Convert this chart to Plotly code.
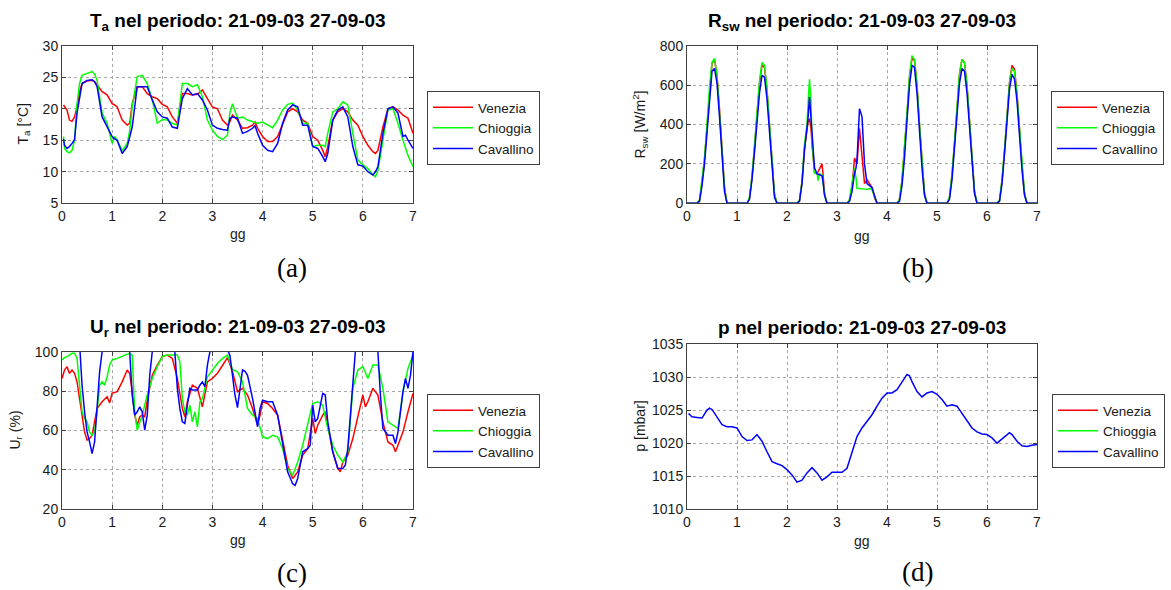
import plotly.graph_objects as go

W, H = 1171, 590
COLORS = {"Venezia": "#ff0000", "Chioggia": "#00ff00", "Cavallino": "#0000ff"}
DAY_TICKS = [0, 1, 2, 3, 4, 5, 6, 7]

# ---------------- (a) air temperature ----------------
ta_t = [0.03, 0.05, 0.1, 0.15, 0.2, 0.25, 0.3, 0.35, 0.4, 0.5, 0.6, 0.65, 0.7, 0.8, 0.9,
        1.0, 1.05, 1.1, 1.2, 1.3, 1.35, 1.4, 1.5, 1.6, 1.7, 1.8, 1.9,
        2.0, 2.1, 2.2, 2.3, 2.4, 2.5, 2.6, 2.7, 2.8, 2.9,
        3.0, 3.1, 3.2, 3.3, 3.35, 3.4, 3.5, 3.6, 3.7, 3.8, 3.85, 3.9,
        4.0, 4.1, 4.2, 4.3, 4.4, 4.5, 4.6, 4.7, 4.8, 4.9,
        5.0, 5.1, 5.2, 5.25, 5.3, 5.4, 5.5, 5.6, 5.7, 5.8, 5.9,
        6.0, 6.1, 6.2, 6.25, 6.3, 6.4, 6.5, 6.6, 6.7, 6.8, 6.85, 6.9, 7.0]
ta_venezia = [20.6, 20.3, 19.8, 18.2, 18.0, 18.7, 20.3, 22.7, 24.0, 24.4, 24.5, 24.3, 23.8, 22.7, 22.2,
              20.8, 20.6, 20.3, 18.2, 17.4, 17.7, 20.8, 23.5, 23.5, 22.4, 21.9, 21.6,
              20.7, 20.3, 18.7, 17.7, 22.4, 22.4, 22.2, 22.3, 23.0, 21.6,
              20.3, 20.0, 18.2, 17.4, 18.0, 19.0, 18.2, 16.9, 17.0, 17.4, 17.9, 16.9,
              15.6, 14.8, 14.8, 15.6, 17.7, 19.5, 20.0, 19.5, 18.2, 17.7,
              15.6, 15.0, 13.4, 12.4, 14.0, 18.2, 19.5, 20.0, 19.5, 18.2, 17.4,
              15.6, 14.2, 13.2, 12.9, 13.4, 17.1, 20.0, 20.3, 19.8, 19.0, 18.8, 18.5, 16.1]
ta_chioggia = [15.6, 13.7, 13.2, 13.0, 13.4, 15.0, 20.8, 24.0, 25.3, 25.6, 25.9, 25.5, 24.5, 19.3, 17.7,
               14.5, 15.6, 15.0, 13.4, 14.5, 16.5, 20.3, 25.1, 25.3, 24.0, 21.4, 17.7,
               18.3, 18.2, 17.7, 17.4, 24.0, 24.0, 23.5, 23.8, 21.9, 18.2,
               16.6, 15.6, 15.1, 15.8, 19.5, 20.8, 18.5, 18.7, 18.2, 17.9, 17.8, 17.7,
               17.9, 17.4, 17.0, 18.2, 19.8, 20.7, 20.9, 19.8, 17.7, 17.7,
               14.0, 14.2, 14.2, 14.0, 16.1, 19.5, 20.0, 21.1, 20.6, 16.1, 11.9,
               11.1, 10.5, 9.5, 9.2, 10.2, 15.0, 19.8, 20.0, 17.7, 15.0, 13.8, 12.6, 10.8]
ta_cavallino = [15.2, 14.2, 13.7, 14.0, 14.5, 15.1, 19.3, 22.0, 24.0, 24.5, 24.6, 24.3, 23.5, 18.7, 17.1,
                15.6, 15.2, 15.0, 12.9, 14.0, 15.5, 17.1, 23.5, 23.5, 23.5, 21.4, 19.5,
                18.7, 18.5, 17.1, 16.9, 21.6, 23.2, 22.2, 22.4, 21.4, 19.8,
                17.4, 16.9, 16.7, 16.6, 18.5, 18.7, 18.5, 16.1, 16.4, 16.9, 17.3, 16.1,
                14.2, 13.4, 13.2, 14.5, 17.7, 19.8, 20.6, 20.3, 17.4, 17.4,
                14.0, 13.7, 12.4, 11.6, 12.9, 18.2, 19.8, 20.3, 18.7, 14.0, 11.1,
                10.9, 10.0, 9.5, 10.0, 10.8, 16.1, 20.0, 20.3, 19.3, 15.6, 15.8, 15.0, 13.7]

# ---------------- (b) short-wave radiation ----------------
rsw_t = [0, 0.2, 0.25, 0.3, 0.35, 0.4, 0.45, 0.5, 0.55, 0.6, 0.65, 0.7, 0.75, 0.8,
         1.2, 1.25, 1.3, 1.35, 1.4, 1.45, 1.5, 1.55, 1.6, 1.65, 1.7, 1.75, 1.8,
         2.2, 2.25, 2.3, 2.35, 2.4, 2.42, 2.45, 2.48, 2.5, 2.55, 2.6, 2.62, 2.65, 2.7, 2.72, 2.75, 2.8,
         3.2, 3.25, 3.3, 3.35, 3.38, 3.4, 3.45, 3.5, 3.55, 3.6, 3.65, 3.7, 3.75, 3.8,
         4.2, 4.25, 4.3, 4.35, 4.4, 4.45, 4.5, 4.55, 4.6, 4.65, 4.7, 4.75, 4.8,
         5.2, 5.25, 5.3, 5.35, 5.4, 5.45, 5.5, 5.55, 5.6, 5.65, 5.7, 5.75, 5.8,
         6.2, 6.25, 6.3, 6.35, 6.4, 6.45, 6.5, 6.55, 6.6, 6.65, 6.7, 6.75, 6.8, 7.0]
rsw_venezia = [0, 0, 15, 105, 225, 395, 580, 710, 730, 650, 480, 260, 80, 0,
               0, 25, 135, 285, 445, 610, 700, 690, 575, 385, 190, 45, 0,
               0, 15, 110, 280, 380, 410, 430, 380, 300, 160, 150, 160, 175, 200, 150, 50, 0,
               0, 15, 80, 230, 210, 200, 380, 250, 100, 120, 100, 80, 30, 0,
               0, 20, 115, 265, 450, 640, 735, 725, 600, 400, 200, 50, 0,
               0, 30, 145, 305, 495, 655, 730, 715, 600, 410, 220, 60, 0,
               0, 15, 115, 265, 450, 615, 700, 680, 560, 370, 190, 50, 0, 0]
rsw_chioggia = [0, 0, 15, 110, 230, 400, 590, 715, 735, 650, 470, 250, 80, 0,
                0, 30, 140, 290, 450, 620, 715, 700, 580, 390, 190, 45, 0,
                0, 15, 110, 300, 400, 500, 630, 520, 320, 150, 160, 115, 150, 145, 100, 50, 0,
                0, 20, 100, 180, 130, 75, 75, 75, 72, 70, 75, 70, 30, 0,
                0, 20, 120, 270, 460, 650, 750, 730, 600, 400, 200, 50, 0,
                0, 30, 150, 310, 500, 660, 730, 715, 600, 410, 220, 60, 0,
                0, 15, 120, 270, 450, 610, 685, 670, 550, 370, 190, 50, 0, 0]
rsw_cavallino = [0, 0, 10, 90, 200, 370, 550, 670, 685, 610, 440, 220, 60, 0,
                 0, 20, 120, 260, 420, 560, 650, 640, 530, 360, 170, 30, 0,
                 0, 10, 100, 270, 390, 430, 540, 420, 330, 180, 150, 148, 145, 140, 110, 40, 0,
                 0, 10, 60, 150, 180, 220, 480, 440, 200, 100, 90, 80, 40, 0,
                 0, 10, 90, 230, 420, 600, 700, 690, 560, 360, 180, 40, 0,
                 0, 20, 120, 280, 460, 610, 685, 670, 560, 380, 200, 50, 0,
                 0, 10, 100, 250, 420, 580, 655, 630, 520, 340, 170, 40, 0, 0]

# ---------------- (c) relative humidity ----------------
ur_venezia_t = [0, .05, .1, .15, .2, .25, .3, .35, .4, .45, .5, .55, .6, .65, .7, .8, .9, .95,
                1.0, 1.1, 1.2, 1.3, 1.35, 1.4, 1.45, 1.5, 1.55, 1.6, 1.65, 1.7, 1.8, 1.9,
                2.0, 2.1, 2.2, 2.3, 2.4, 2.45, 2.5, 2.6, 2.7, 2.8, 2.9,
                3.0, 3.1, 3.2, 3.3, 3.4, 3.5, 3.6, 3.7, 3.8, 3.9, 3.95,
                4.0, 4.1, 4.2, 4.3, 4.4, 4.5, 4.6, 4.7, 4.8, 4.9,
                5.0, 5.05, 5.1, 5.2, 5.25, 5.3, 5.4, 5.5, 5.55, 5.6, 5.7, 5.8, 5.9,
                6.0, 6.05, 6.1, 6.2, 6.3, 6.4, 6.5, 6.6, 6.65, 6.7, 6.8, 6.9, 7.0]
ur_venezia = [86.4, 90.7, 92.4, 89, 90.7, 89, 84.7, 76.3, 67, 59.3, 55.1, 56, 57.6, 65.3, 71.2, 74.6, 77.1, 74,
              79, 79.7, 84.7, 90.7, 89, 79.7, 67.8, 62.7, 67, 67.8, 67, 75.4, 88.1, 93.2,
              97.5, 98.3, 96.6, 86.4, 71.2, 67, 74.6, 83, 81.4, 72, 84.7,
              86.4, 89, 93, 97, 90, 79.7, 81.4, 78, 71.2, 62.7, 67.8,
              74.6, 73.7, 71.2, 67.8, 54.2, 42.4, 35.6, 39, 47.5, 50.8,
              66.1, 58.5, 62.7, 67.8, 69.5, 62.7, 49.2, 40.7, 39, 44, 47.5, 55.9, 67.8,
              78, 72, 74.6, 81.4, 78, 64.4, 54.2, 52.5, 49.2, 52.5, 59.3, 69.5, 78.8]
ur_chioggia_t = [0, .05, .1, .2, .25, .3, .35, .4, .45, .5, .55, .6, .65, .7, .75, .8, .85, .9, .95,
                 1.0, 1.1, 1.2, 1.3, 1.35, 1.4, 1.45, 1.5, 1.55, 1.6, 1.7, 1.8, 1.9,
                 2.0, 2.1, 2.2, 2.3, 2.35, 2.4, 2.45, 2.5, 2.55, 2.6, 2.65, 2.7, 2.75, 2.8, 2.9,
                 3.0, 3.1, 3.2, 3.3, 3.4, 3.5, 3.6, 3.7, 3.8, 3.9,
                 4.0, 4.1, 4.2, 4.3, 4.4, 4.5, 4.6, 4.7, 4.8, 4.9,
                 5.0, 5.1, 5.2, 5.3, 5.4, 5.5, 5.6, 5.7, 5.8, 5.9,
                 6.0, 6.1, 6.2, 6.3, 6.4, 6.5, 6.6, 6.7, 6.8, 6.9, 7.0]
ur_chioggia = [95.8, 97, 97.5, 99.2, 99.2, 96.6, 83, 69.5, 66.1, 64.4, 59.3, 57.6, 59.3, 69.5, 83, 84.7, 83, 87.3, 93.2,
               95.8, 96.6, 97.5, 98.6, 99.2, 98.3, 69.5, 60.2, 64.4, 67.8, 78, 86.4, 92.4,
               97.5, 98.3, 98.3, 98.3, 95, 76.3, 69.5, 67.8, 72.9, 64.4, 69.5, 61.9, 74.6, 76.3, 87.3,
               90.7, 94, 96.6, 98.3, 91, 89.8, 84.7, 71.2, 67.8, 66.1,
               56.8, 55.9, 57.6, 56.8, 50.8, 40.7, 37.3, 44, 52.5, 62.7,
               73.7, 74.6, 72.9, 61, 52.5, 47.5, 44, 49.2, 81.4, 90.7,
               92.4, 86.4, 93.2, 93.2, 81.4, 64.4, 62.7, 61, 79.7, 91.5, 98.3]
ur_cavallino_t = [0, 0.1, 0.2, 0.3, 0.36, 0.4, 0.45, 0.5, 0.55, 0.6, 0.65, 0.7, 0.75, 0.8, 0.9,
                  1.1, 1.3, 1.35, 1.4, 1.45, 1.5, 1.55, 1.6, 1.65, 1.7, 1.75, 1.8, 1.9,
                  2.1, 2.2, 2.25, 2.3, 2.35, 2.4, 2.45, 2.5, 2.55, 2.6, 2.7, 2.75, 2.8, 2.85, 2.9, 2.95,
                  3.0, 3.2, 3.3, 3.35, 3.4, 3.45, 3.5, 3.55, 3.6, 3.65, 3.7, 3.8, 3.85, 3.9, 3.95,
                  4.0, 4.1, 4.2, 4.3, 4.4, 4.5, 4.6, 4.65, 4.7, 4.8, 4.9, 4.95,
                  5.0, 5.05, 5.1, 5.2, 5.25, 5.3, 5.4, 5.5, 5.6, 5.65, 5.7, 5.8, 5.85, 5.9,
                  6.1, 6.25, 6.3, 6.35, 6.4, 6.5, 6.6, 6.65, 6.7, 6.8, 6.85, 6.9, 6.95, 7.0]
ur_cavallino = [103, 104, 104, 102, 100, 83, 69.5, 59.3, 54.2, 48.3, 54.2, 71.2, 89.8, 100, 105,
                106, 102, 100, 78, 67.8, 69.5, 72, 69.5, 60.2, 67.8, 88.1, 100, 105,
                106, 103, 100, 81.4, 71.2, 64.4, 63.6, 72.9, 81.4, 80.5, 80.5, 83, 84.7, 82.2, 93.2, 100,
                104, 104, 101, 98, 88, 78, 71.6, 80, 90.7, 90, 88, 76.3, 69.5, 61.9, 71.2,
                75.4, 74.6, 74.6, 67.8, 52.5, 39, 33, 32.2, 35.6, 49.2, 50.8, 52.5,
                72.9, 64.4, 66.1, 78.8, 78, 64.4, 49.2, 40.7, 40.7, 42.4, 50.8, 86.4, 100, 104,
                106, 103, 100, 78, 61, 57.6, 57.6, 53.4, 59.3, 79.7, 86.4, 81.4, 88.1, 100]

# ---------------- (d) pressure (only Cavallino available) ----------------
p_t = [0.03, 0.1, 0.2, 0.3, 0.4, 0.45, 0.5, 0.6, 0.7, 0.8, 0.9,
       1.0, 1.1, 1.2, 1.3, 1.4, 1.5, 1.6, 1.7, 1.8, 1.9,
       2.0, 2.1, 2.2, 2.3, 2.4, 2.5, 2.6, 2.7, 2.8, 2.9,
       3.0, 3.1, 3.2, 3.3, 3.4, 3.5, 3.6, 3.7, 3.8, 3.9,
       4.0, 4.1, 4.2, 4.3, 4.4, 4.45, 4.5, 4.6, 4.7, 4.8, 4.9,
       5.0, 5.1, 5.2, 5.3, 5.4, 5.5, 5.6, 5.7, 5.8, 5.9,
       6.0, 6.1, 6.2, 6.3, 6.4, 6.45, 6.5, 6.6, 6.7, 6.8, 6.9, 7.0]
p_cavallino = [1024.5, 1024.0, 1023.9, 1023.8, 1025.0, 1025.3, 1025.1, 1024.0, 1022.8, 1022.5, 1022.5,
               1022.3, 1021.0, 1020.4, 1020.5, 1021.3, 1020.3, 1018.7, 1017.2, 1016.9, 1016.6,
               1016.0, 1015.2, 1014.1, 1014.4, 1015.5, 1016.3, 1015.5, 1014.4, 1014.9, 1015.6,
               1015.6, 1015.6, 1016.2, 1018.5, 1021.0, 1022.3, 1023.3, 1024.3, 1025.6, 1026.8,
               1027.6, 1027.6, 1028.1, 1029.3, 1030.4, 1030.2, 1029.3, 1027.8, 1027.0, 1027.6, 1027.8,
               1027.4, 1026.6, 1025.6, 1025.8, 1025.6, 1024.5, 1023.3, 1022.3, 1021.7, 1021.4,
               1021.3, 1020.8, 1020.0, 1020.6, 1021.3, 1021.6, 1021.3, 1020.3, 1019.6, 1019.5, 1019.7, 1019.8]

for a, b in [(ta_t, ta_venezia), (ta_t, ta_chioggia), (ta_t, ta_cavallino),
             (rsw_t, rsw_venezia), (rsw_t, rsw_chioggia), (rsw_t, rsw_cavallino),
             (ur_venezia_t, ur_venezia), (ur_chioggia_t, ur_chioggia), (ur_cavallino_t, ur_cavallino),
             (p_t, p_cavallino)]:
    assert len(a) == len(b), (len(a), len(b))

# ---------------- layout helpers ----------------
def px_x(v):
    return v / W

def px_y(v):
    return 1 - v / H

PANELS = {
    "a": dict(x=(62, 413), y=(45.7, 203.3)),
    "b": dict(x=(687, 1037), y=(45.7, 203.3)),
    "c": dict(x=(62, 413), y=(351.7, 509.3)),
    "d": dict(x=(687, 1037), y=(344.0, 509.3)),
}
FONT = "Liberation Sans, Arial, Helvetica, sans-serif"
AXC = "#404040"
TXT = "#1a1a1a"

fig = go.Figure()

def add_series(xref, yref, legend, t, v, name, show=True):
    fig.add_trace(go.Scatter(x=t, y=v, mode="lines", name=name,
                             line=dict(color=COLORS[name], width=1.5),
                             xaxis=xref, yaxis=yref, legend=legend, showlegend=show))

add_series("x", "y", "legend", ta_t, ta_venezia, "Venezia")
add_series("x", "y", "legend", ta_t, ta_chioggia, "Chioggia")
add_series("x", "y", "legend", ta_t, ta_cavallino, "Cavallino")

add_series("x2", "y2", "legend2", rsw_t, rsw_venezia, "Venezia")
add_series("x2", "y2", "legend2", rsw_t, rsw_chioggia, "Chioggia")
add_series("x2", "y2", "legend2", rsw_t, rsw_cavallino, "Cavallino")

add_series("x3", "y3", "legend3", ur_venezia_t, ur_venezia, "Venezia")
add_series("x3", "y3", "legend3", ur_chioggia_t, ur_chioggia, "Chioggia")
add_series("x3", "y3", "legend3", ur_cavallino_t, ur_cavallino, "Cavallino")

add_series("x4", "y4", "legend4", [None], [None], "Venezia")
add_series("x4", "y4", "legend4", [None], [None], "Chioggia")
add_series("x4", "y4", "legend4", p_t, p_cavallino, "Cavallino")

def axis(dom, anchor, rng, tickvals):
    return dict(domain=dom, anchor=anchor, range=rng, tickvals=tickvals, automargin=False,
                ticks="inside", ticklen=4, tickcolor=AXC, showline=True, linecolor=AXC,
                linewidth=1, mirror="ticks", showgrid=True, gridcolor="#a8a8a8",
                griddash="dot", gridwidth=1, zeroline=False,
                tickfont=dict(family=FONT, size=14, color=TXT))

yspecs = {
    "a": ([5, 30], [5, 10, 15, 20, 25, 30]),
    "b": ([0, 800], [0, 200, 400, 600, 800]),
    "c": ([20, 100], [20, 40, 60, 80, 100]),
    "d": ([1010, 1035], [1010, 1015, 1020, 1025, 1030, 1035]),
}
layout = dict(width=W, height=H, margin=dict(l=0, r=0, t=0, b=0, autoexpand=False),
              paper_bgcolor="white", plot_bgcolor="white",
              font=dict(family=FONT, size=14, color=TXT))
for i, key in enumerate("abcd"):
    p = PANELS[key]
    xd = [px_x(p["x"][0]), px_x(p["x"][1])]
    yd = [px_y(p["y"][1]), px_y(p["y"][0])]
    sfx = "" if i == 0 else str(i + 1)
    layout["xaxis" + sfx] = axis(xd, "y" + sfx, [0, 7], DAY_TICKS)
    layout["yaxis" + sfx] = axis(yd, "x" + sfx, yspecs[key][0], yspecs[key][1])

legend_pos = {"legend": (427, 91), "legend2": (1051, 91), "legend3": (427, 394), "legend4": (1052, 394)}
for lname, (lx, ly) in legend_pos.items():
    layout[lname] = dict(x=px_x(lx), y=px_y(ly), xanchor="left", yanchor="top",
                         bgcolor="white", bordercolor=AXC, borderwidth=1,
                         font=dict(family=FONT, size=13.5, color=TXT),
                         tracegroupgap=0, itemwidth=40)
fig.update_layout(**layout)

titles = {
    "a": ("<b>T<sub>a</sub> nel periodo: 21-09-03 27-09-03</b>", 22),
    "b": ("<b>R<sub>sw</sub> nel periodo: 21-09-03 27-09-03</b>", 22),
    "c": ("<b>U<sub>r</sub> nel periodo: 21-09-03 27-09-03</b>", 328),
    "d": ("<b>p nel periodo: 21-09-03 27-09-03</b>", 327),
}
ylabels = {
    "a": ("T<sub>a</sub> [°C]", 23),
    "b": ("R<sub>sw</sub> [W/m<sup>2</sup>]", 640),
    "c": ("U<sub>r</sub> (%)", 15),
    "d": ("p [mbar]", 640),
}
xlabel_y = {"a": 234, "b": 236, "c": 540, "d": 541}
captions = {"a": (292, 268), "b": (917, 268), "c": (292, 573), "d": (917, 572)}

for key in "abcd":
    p = PANELS[key]
    cx = (p["x"][0] + p["x"][1]) / 2
    cy = (p["y"][0] + p["y"][1]) / 2
    txt, ty = titles[key]
    fig.add_annotation(text=txt, x=px_x(cx), y=px_y(ty), xref="paper", yref="paper",
                       showarrow=False, xanchor="center", yanchor="middle",
                       font=dict(family=FONT, size=19, color="black"))
    lt, lx = ylabels[key]
    fig.add_annotation(text=lt, x=px_x(lx), y=px_y(cy), xref="paper", yref="paper",
                       showarrow=False, textangle=-90, xanchor="center", yanchor="middle",
                       font=dict(family=FONT, size=14, color=TXT))
    fig.add_annotation(text="gg", x=px_x(cx), y=px_y(xlabel_y[key]), xref="paper", yref="paper",
                       showarrow=False, xanchor="center", yanchor="middle",
                       font=dict(family=FONT, size=14, color=TXT))
    capx, capy = captions[key]
    fig.add_annotation(text="(" + key + ")", x=px_x(capx), y=px_y(capy), xref="paper", yref="paper",
                       showarrow=False, xanchor="center", yanchor="middle",
                       font=dict(family="Liberation Serif, DejaVu Serif, serif", size=27, color="black"))

# remove the default 8px page margin so the figure sits at the window origin; hide the modebar
fig.write_html("out.html", config={"displayModeBar": False},
               post_script="document.body.style.margin='0';")
